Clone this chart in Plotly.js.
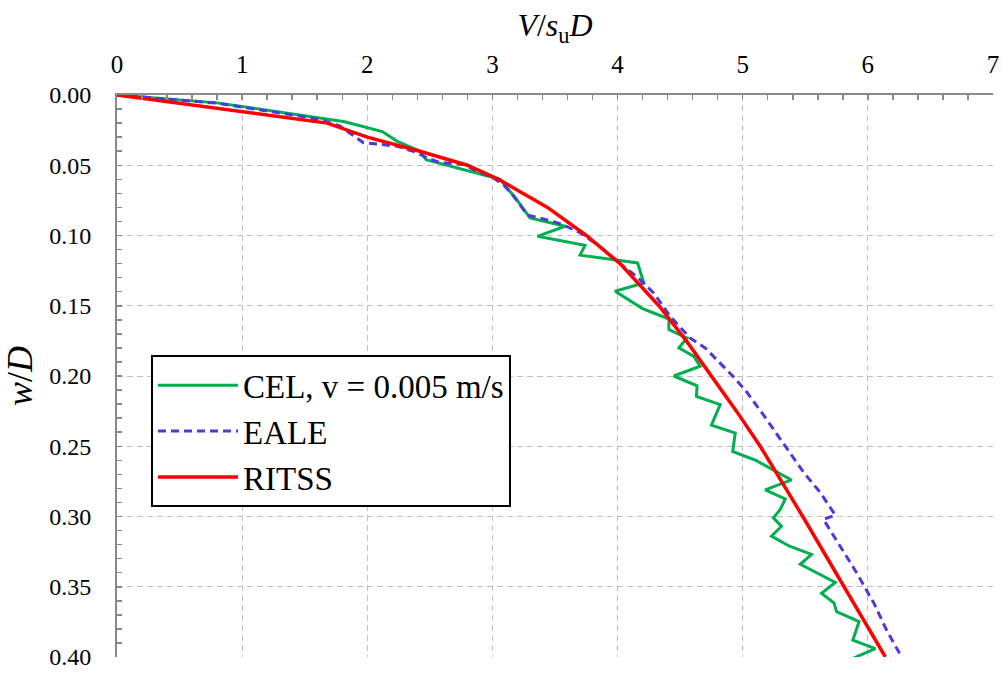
<!DOCTYPE html>
<html>
<head>
<meta charset="utf-8">
<script src="https://cdn.plot.ly/plotly-3.0.1.min.js"></script>
<style>
  html, body { margin: 0; padding: 0; background: #ffffff; }
  #chart { width: 1003px; height: 675px; }
</style>
</head>
<body>
<div id="chart"></div>
<script>
// CEL, v = 0.005 m/s
const celV = [0, 0.80, 1.82, 2.12, 2.24, 2.42, 2.47, 2.60, 2.75, 3.06, 3.19, 3.30, 3.58, 3.36, 3.74, 3.70,
  3.99, 4.16, 4.21, 3.98, 4.20, 4.41, 4.41, 4.555, 4.49, 4.61, 4.66, 4.45, 4.635, 4.63, 4.82, 4.75,
  4.94, 4.92, 5.11, 5.39, 5.18, 5.34, 5.30, 5.245, 5.31, 5.23, 5.37, 5.55, 5.46, 5.74, 5.63, 5.73,
  5.75, 5.93, 5.88, 6.06, 5.88];
const celW = [0, 0.0056, 0.019, 0.026, 0.033, 0.040, 0.046, 0.049, 0.053, 0.060, 0.074, 0.0875, 0.0934, 0.1006, 0.107, 0.114,
  0.1175, 0.1195, 0.1338, 0.1397, 0.152, 0.1595, 0.167, 0.173, 0.180, 0.186, 0.193, 0.200, 0.207, 0.2145, 0.2204, 0.235,
  0.2406, 0.2537, 0.2603, 0.274, 0.281, 0.2875, 0.295, 0.301, 0.307, 0.314, 0.321, 0.327, 0.334, 0.347, 0.3546, 0.3617,
  0.3677, 0.3748, 0.388, 0.394, 0.401];

// EALE
const ealeV = [0, 0.80, 1.46, 1.62, 1.78, 1.97, 2.10, 2.24, 2.40, 2.48, 2.58, 2.77, 2.87, 3.01, 3.09, 3.17,
  3.28, 3.40, 3.54, 3.70, 3.86, 4.02, 4.15, 4.29, 4.42, 4.58, 4.70, 4.81, 4.92, 5.02, 5.12, 5.20,
  5.27, 5.38, 5.49, 5.62, 5.74, 5.645, 5.78, 5.91, 6.05, 6.15, 6.27];
const ealeW = [0, 0.0058, 0.015, 0.0175, 0.022, 0.034, 0.035, 0.0365, 0.041, 0.045, 0.048, 0.0495, 0.054, 0.059, 0.064, 0.072,
  0.0855, 0.088, 0.0915, 0.098, 0.108, 0.120, 0.129, 0.141, 0.1575, 0.173, 0.180, 0.190, 0.200, 0.210, 0.222, 0.232,
  0.241, 0.255, 0.269, 0.283, 0.299, 0.302, 0.321, 0.340, 0.362, 0.381, 0.400];

// RITSS
const ritssV = [0, 1.68, 2.00, 2.42, 2.80, 3.05, 3.44, 3.75, 4.02, 4.33, 4.55, 4.75, 4.95, 5.14, 5.31, 5.48, 5.81, 6.14];
const ritssW = [0, 0.020, 0.030, 0.040, 0.050, 0.060, 0.080, 0.100, 0.120, 0.150, 0.175, 0.200, 0.225, 0.250, 0.275, 0.300, 0.350, 0.400];

const xTicks = [0, 1, 2, 3, 4, 5, 6, 7];
const yTicks = [0, 0.05, 0.10, 0.15, 0.20, 0.25, 0.30, 0.35, 0.40];

const serif = 'Liberation Serif, Times New Roman, serif';
const axisGray = '#898989';
const gridGray = '#c0c0c0';

const traces = [
  { x: celV, y: celW, name: 'CEL, v = 0.005 m/s', mode: 'lines', legendgroup: 'a',
    line: { color: '#00b050', width: 3 } },
  { x: ealeV, y: ealeW, name: 'EALE', mode: 'lines', legendgroup: 'b',
    line: { color: '#4d3adf', width: 3, dash: '8px,5px' } },
  { x: ritssV, y: ritssW, name: 'RITSS', mode: 'lines', legendgroup: 'c',
    line: { color: '#ff0000', width: 3.5 } }
];

const layout = {
  width: 1003, height: 675,
  margin: { l: 117, r: 10, t: 95, b: 18 },
  paper_bgcolor: '#ffffff', plot_bgcolor: '#ffffff',
  font: { family: serif, color: '#000000', size: 24 },
  showlegend: true,
  legend: {
    x: 0.0388, y: 0.537, xanchor: 'left', yanchor: 'top',
    bgcolor: '#ffffff', bordercolor: '#000000', borderwidth: 2,
    font: { family: serif, size: 33, color: '#000000' },
    itemwidth: 80, tracegroupgap: 0
  },
  xaxis: {
    side: 'top', range: [0, 7], tickvals: xTicks, ticktext: xTicks.map(String),
    showline: true, linecolor: axisGray, linewidth: 2,
    ticks: 'inside', ticklen: 5, tickcolor: axisGray, tickwidth: 1.5,
    minor: { dtick: 0.2, ticks: 'inside', ticklen: 5, tickcolor: axisGray, tickwidth: 1.5, showgrid: false },
    showgrid: true, gridcolor: gridGray, gridwidth: 1, griddash: '6px,4px',
    zeroline: false, tickfont: { family: serif, size: 25 }, ticklabelstandoff: 10,
    title: { text: '<i>V</i>/<i>s</i><sub>u</sub><i>D</i>', font: { family: serif, size: 32 }, standoff: 5 }
  },
  yaxis: {
    range: [0.40, 0], tickvals: yTicks, ticktext: yTicks.map(v => v.toFixed(2)),
    showline: true, linecolor: axisGray, linewidth: 2,
    ticks: 'inside', ticklen: 5, tickcolor: axisGray, tickwidth: 1.5,
    minor: { dtick: 0.01, ticks: 'inside', ticklen: 5, tickcolor: axisGray, tickwidth: 1.5, showgrid: false },
    showgrid: true, gridcolor: gridGray, gridwidth: 1, griddash: '6px,4px',
    zeroline: false, tickfont: { family: serif, size: 24 }, ticklabelstandoff: 19,
    title: { text: '<i>w</i>/<i>D</i>', font: { family: serif, size: 36 }, standoff: 12 }
  }
};

Plotly.newPlot('chart', traces, layout, { staticPlot: true, displayModeBar: false });
</script>
</body>
</html>
